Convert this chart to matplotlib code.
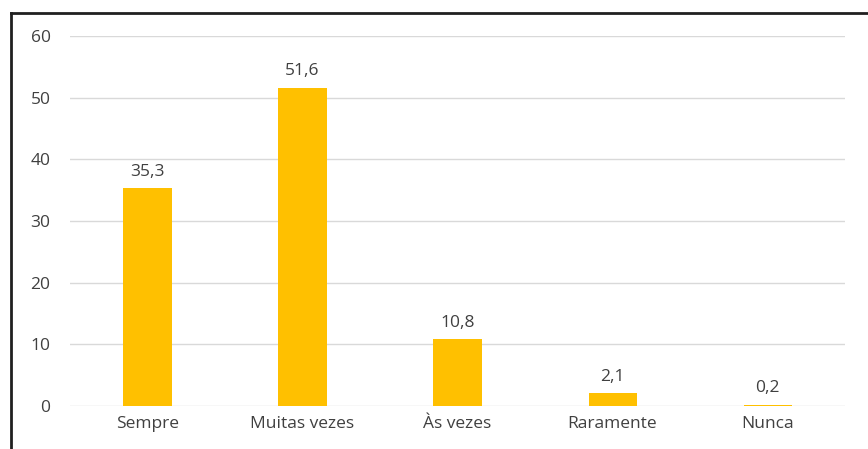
import matplotlib
matplotlib.use("Agg")
import matplotlib.pyplot as plt
from matplotlib.lines import Line2D

categories = ["Sempre", "Muitas vezes", "Às vezes", "Raramente", "Nunca"]
values = [35.3, 51.6, 10.8, 2.1, 0.2]
value_labels = ["35,3", "51,6", "10,8", "2,1", "0,2"]
yticks = [0, 10, 20, 30, 40, 50, 60]

plt.rcParams['font.family'] = ['Open Sans', 'DejaVu Sans']
text_color = '#404040'

fig = plt.figure(figsize=(8.68, 4.49), dpi=100)
ax = fig.add_axes([0.0806, 0.0958, 0.893, 0.824])

x = list(range(len(categories)))
ax.bar(x, values, width=0.31, color='#FFC000', zorder=3)
for xi, v, lab in zip(x, values, value_labels):
    ax.annotate(lab, (xi, v), xytext=(0, 6), textcoords='offset points',
                ha='center', va='bottom', fontsize=12.5, color=text_color)

ax.set_xlim(-0.5, len(categories) - 0.5)
ax.set_ylim(0, 60)
ax.set_yticks(yticks)
ax.set_yticklabels([str(t) for t in yticks])
ax.set_xticks(x)
ax.set_xticklabels(categories)
ax.tick_params(axis='both', length=0, labelsize=12.5, labelcolor=text_color)
ax.tick_params(axis='y', pad=14)
ax.tick_params(axis='x', pad=7)
ax.grid(axis='y', color='#D9D9D9', linewidth=1, zorder=0)
for s in ax.spines.values():
    s.set_visible(False)

# partial outer frame (left and top)
fig.add_artist(Line2D([11/868, 11/868], [0, 1 - 13/449], transform=fig.transFigure,
                      color='#202020', linewidth=2))
fig.add_artist(Line2D([11/868, 1], [1 - 13/449, 1 - 13/449], transform=fig.transFigure,
                      color='#202020', linewidth=2))

fig.savefig("out.png", dpi=100)
